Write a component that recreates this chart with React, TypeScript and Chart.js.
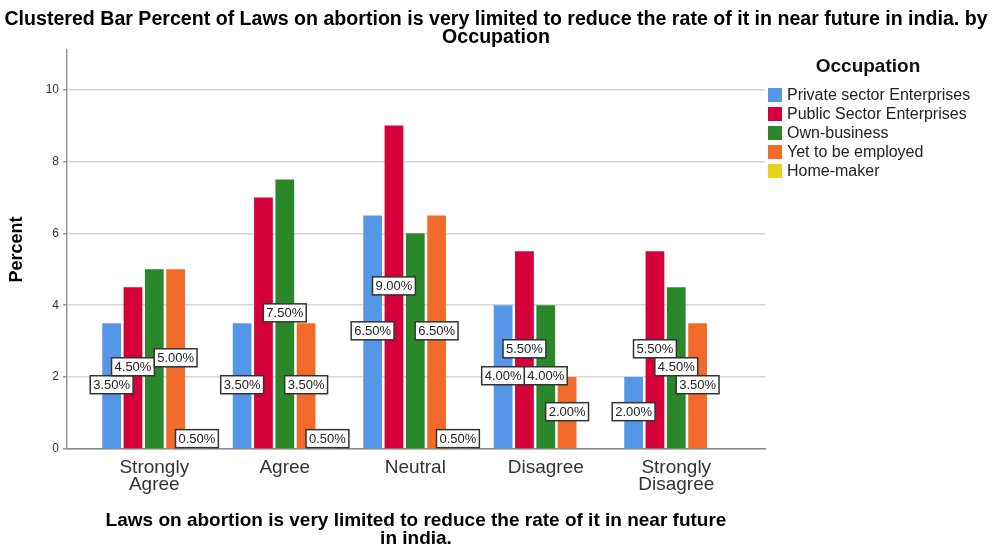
import React, { useEffect, useRef } from 'react';
import { Chart, registerables } from 'chart.js';

Chart.register(...registerables);

const categories: string[][] = [['Strongly', 'Agree'], ['Agree'], ['Neutral'], ['Disagree'], ['Strongly', 'Disagree']];
const seriesNames = ['Private sector Enterprises', 'Public Sector Enterprises', 'Own-business', 'Yet to be employed', 'Home-maker'];
const privateSector = [3.5, 3.5, 6.5, 4.0, 2.0];
const publicSector = [4.5, 7.0, 9.0, 5.5, 5.5];
const ownBusiness = [5.0, 7.5, 6.0, 4.0, 4.5];
const yetToBeEmployed = [5.0, 3.5, 6.5, 2.0, 3.5];
const homeMaker: (number | null)[] = [0.5, 0.5, 0.5, null, null];
const yTicks = [0, 2, 4, 6, 8, 10];
// [series index, category index] of value labels SPSS hid because of overlap
const hiddenLabels = [[2, 0], [1, 1], [2, 2]];

const chartTitle = ['Clustered Bar Percent of Laws on abortion is very limited to reduce the rate of it in near future in india. by', 'Occupation'];
const xTitle = ['Laws on abortion is very limited to reduce the rate of it in near future', 'in india.'];
const yTitle = 'Percent';
const legendTitle = 'Occupation';

const colors = ['#5596E6', '#D5003A', '#2A882A', '#F26B2B', '#E6D31C'];
const FONT = '"Liberation Sans", Arial, Helvetica, sans-serif';

const valueLabelPlugin = {
  id: 'valueLabels',
  afterDatasetsDraw(chart: any) {
    const ctx = chart.ctx;
    ctx.save();
    ctx.font = `13px ${FONT}`;
    ctx.textAlign = 'center';
    ctx.textBaseline = 'middle';
    chart.data.datasets.forEach((ds: any, di: number) => {
      const meta = chart.getDatasetMeta(di);
      meta.data.forEach((el: any, i: number) => {
        const pt = ds.data[i];
        if (!pt || pt.y == null) return;
        if (hiddenLabels.some(([s, c]) => s === di && c === i)) return;
        const p = el.getProps(['x', 'y', 'base'], true);
        const cx = p.x;
        const cy = (p.y + p.base) / 2 - 1;
        const text = pt.y.toFixed(2) + '%';
        const w = ctx.measureText(text).width + 6;
        const h = 18;
        ctx.fillStyle = '#ffffff';
        ctx.fillRect(cx - w / 2, cy - h / 2, w, h);
        ctx.lineWidth = 1.5;
        ctx.strokeStyle = '#333333';
        ctx.strokeRect(cx - w / 2, cy - h / 2, w, h);
        ctx.fillStyle = '#222222';
        ctx.fillText(text, cx, cy + 0.5);
      });
    });
    ctx.restore();
  },
};

const legendPlugin = {
  id: 'sideLegend',
  afterDraw(chart: any) {
    const ctx = chart.ctx;
    const left = chart.chartArea.right + 3;
    ctx.save();
    ctx.fillStyle = '#111111';
    ctx.font = `bold 19px ${FONT}`;
    ctx.textAlign = 'center';
    ctx.textBaseline = 'middle';
    ctx.fillText(legendTitle, 868, 67);
    ctx.font = `16px ${FONT}`;
    ctx.textAlign = 'left';
    chart.data.datasets.forEach((ds: any, i: number) => {
      const yc = 95 + i * 19;
      ctx.fillStyle = ds.backgroundColor;
      ctx.fillRect(left, yc - 7, 14, 14);
      ctx.fillStyle = '#222222';
      ctx.fillText(ds.label, left + 19, yc + 1);
    });
    ctx.restore();
  },
};

export default function App() {
  const ref = useRef<HTMLCanvasElement>(null);
  useEffect(() => {
    if (!ref.current) return;
    Chart.defaults.font.family = FONT;
    const series = [privateSector, publicSector, ownBusiness, yetToBeEmployed, homeMaker];
    const chart = new Chart(ref.current, {
      type: 'bar',
      data: {
        datasets: series.map((vals, si) => ({
          label: seriesNames[si],
          data: vals.map((y, i) => ({ x: i, y })),
          backgroundColor: colors[si],
          borderWidth: 0,
          categoryPercentage: 0.817,
          barPercentage: 0.88,
        })),
      },
      options: {
        responsive: false,
        animation: false,
        layout: { padding: { left: 0, right: 0, top: 0, bottom: 0 } },
        plugins: {
          legend: { display: false },
          tooltip: { enabled: false },
          title: {
            display: true,
            text: chartTitle,
            color: '#000000',
            font: { size: 19.6, weight: 'bold', family: FONT, lineHeight: 0.92 },
            padding: { top: 11, bottom: 3 },
          },
        },
        scales: {
          x: {
            type: 'linear',
            offset: false,
            min: -0.669,
            max: 4.68,
            afterBuildTicks: (axis: any) => {
              axis.ticks = categories.map((_, i) => ({ value: i }));
            },
            afterFit: (axis: any) => {
              axis.height = 99;
            },
            ticks: {
              callback: (v: any) => categories[Math.round(v)] as any,
              autoSkip: false,
              maxRotation: 0,
              color: '#333333',
              font: { size: 19, family: FONT, lineHeight: 0.9 },
              padding: 10,
            },
            grid: { display: false, drawTicks: false, offset: false },
            border: { display: true, color: '#8a8a8a', width: 1.5 },
            title: {
              display: true,
              text: xTitle,
              color: '#000000',
              font: { size: 19, weight: 'bold', family: FONT, lineHeight: 0.95 },
              padding: { top: 0, bottom: 0 },
            },
          },
          y: {
            min: 0,
            max: 11.1,
            afterBuildTicks: (axis: any) => {
              axis.ticks = yTicks.map((v) => ({ value: v }));
            },
            afterFit: (axis: any) => {
              axis.width = 67;
            },
            ticks: {
              color: '#333333',
              font: { size: 12, family: FONT },
              padding: 4,
            },
            grid: { color: '#d6d6d6', lineWidth: 1.5, tickLength: 4, tickColor: '#9a9a9a' },
            border: { display: true, color: '#9a9a9a', width: 1.5 },
            title: {
              display: true,
              text: yTitle,
              color: '#000000',
              font: { size: 18, weight: 'bold', family: FONT, lineHeight: 1.2 },
              padding: { top: 6, bottom: 0 },
            },
          },
          legendSpace: {
            type: 'linear',
            position: 'right',
            display: true,
            afterFit: (axis: any) => {
              axis.width = 227;
            },
            ticks: { display: false },
            grid: { display: false, drawTicks: false },
            border: { display: false },
          },
        },
      },
      plugins: [valueLabelPlugin, legendPlugin],
    } as any);
    return () => chart.destroy();
  }, []);
  return (
    <div style={{ position: 'absolute', left: 0, top: 0, width: 992, height: 548, background: '#ffffff' }}>
      <canvas ref={ref} width={992} height={548} />
    </div>
  );
}
